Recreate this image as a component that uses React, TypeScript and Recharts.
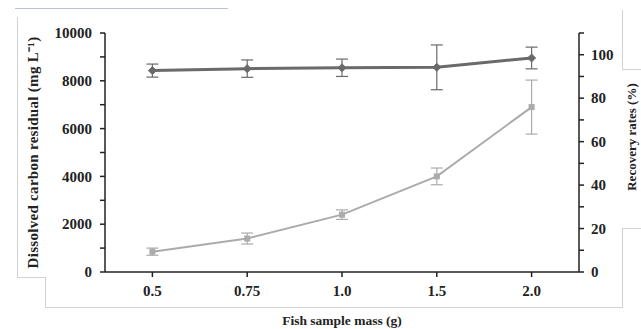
import React from 'react';
import { ComposedChart, Line, XAxis, YAxis, ErrorBar } from 'recharts';

const categories = ['0.5', '0.75', '1.0', '1.5', '2.0'];
const docValues = [850, 1400, 2400, 4000, 6900];
const docErrors = [150, 230, 200, 350, 1130];
const recoveryValues = [92.7, 93.6, 94.0, 94.2, 98.5];
const recoveryErrors = [3, 4, 4, 10.3, 5];
const leftTicks = [0, 1000, 2000, 3000, 4000, 5000, 6000, 7000, 8000, 9000, 10000];
const leftLabeled = [0, 2000, 4000, 6000, 8000, 10000];
const rightTicks = [0, 10, 20, 30, 40, 50, 60, 70, 80, 90, 100, 110];
const rightLabeled = [0, 20, 40, 60, 80, 100];

const data = categories.map((c, i) => ({
  mass: c,
  doc: docValues[i],
  docErr: docErrors[i],
  rec: recoveryValues[i],
  recErr: recoveryErrors[i],
}));

const FONT = '"Liberation Serif", "Times New Roman", serif';
const DARK = '#6a6a6a';
const LIGHT = '#ababab';

const LeftTick = (props: any) => {
  const { x, y, payload } = props;
  if (!leftLabeled.includes(payload.value)) return null;
  return (
    <text x={x} y={y} dy="0.35em" textAnchor="end" fontFamily={FONT} fontWeight="bold" fontSize={15} fill="#222">
      {payload.value}
    </text>
  );
};

const RightTick = (props: any) => {
  const { x, y, payload } = props;
  if (!rightLabeled.includes(payload.value)) return null;
  return (
    <text x={x} y={y} dy="0.35em" textAnchor="start" fontFamily={FONT} fontWeight="bold" fontSize={15} fill="#222">
      {payload.value}
    </text>
  );
};

const BottomTick = (props: any) => {
  const { x, y, payload } = props;
  return (
    <text x={x} y={y} dy="0.75em" textAnchor="middle" fontFamily={FONT} fontWeight="bold" fontSize={15} fill="#222">
      {payload.value}
    </text>
  );
};

const Diamond = (props: any) => {
  const { cx, cy, index } = props;
  const s = 4;
  return (
    <path key={`d-${index}`} d={`M${cx},${cy - s}L${cx + s},${cy}L${cx},${cy + s}L${cx - s},${cy}Z`} fill={DARK} stroke={DARK} />
  );
};

const Square = (props: any) => {
  const { cx, cy, index } = props;
  const s = 2.5;
  return <rect key={`s-${index}`} x={cx - s} y={cy - s} width={2 * s} height={2 * s} fill={LIGHT} stroke={LIGHT} />;
};

const line = (style: React.CSSProperties) => <div style={{ position: 'absolute', background: '#cfd3d8', ...style }} />;

export default function App() {
  return (
    <div style={{ position: 'absolute', left: 0, top: 0, width: 641, height: 329, background: '#fff', overflow: 'hidden' }}>
      {line({ left: 15, top: 8, width: 213, height: 1, background: '#b8c4d0' })}
      {line({ left: 17, top: 17, width: 1, height: 260 })}
      {line({ left: 17, top: 277, width: 28, height: 1 })}
      {line({ left: 45, top: 277, width: 1, height: 30 })}
      {line({ left: 45, top: 307, width: 577, height: 1 })}
      {line({ left: 622, top: 228, width: 1, height: 80 })}
      {line({ left: 622, top: 228, width: 19, height: 1 })}
      {line({ left: 622, top: 10, width: 1, height: 59 })}
      {line({ left: 622, top: 69, width: 19, height: 1 })}
      <div style={{ position: 'absolute', left: 0, top: 0 }}>
        <ComposedChart width={641} height={329} data={data} margin={{ top: 33, right: 0, bottom: 0, left: 0 }}>
          <XAxis
            dataKey="mass"
            scale="band"
            height={57}
            tickSize={5}
            tickMargin={8}
            tick={<BottomTick />}
            stroke="#222"
            strokeWidth={1.5}
            label={{ value: 'Fish sample mass (g)', position: 'insideBottom', offset: 4, fontFamily: FONT, fontWeight: 'bold', fontSize: 13.5, fill: '#222' }}
          />
          <YAxis
            yAxisId="left"
            orientation="left"
            width={105}
            domain={[0, 10000]}
            ticks={leftTicks}
            interval={0}
            tickSize={5}
            tickMargin={8}
            tick={<LeftTick />}
            stroke="#222"
            strokeWidth={1.5}
            label={{ value: 'Dissolved  carbon  residual (mg L\u207B\u00B9)', angle: -90, position: 'insideLeft', offset: 33, fontFamily: FONT, fontWeight: 'bold', fontSize: 15, fill: '#222', style: { textAnchor: 'middle', letterSpacing: 0.3 } }}
          />
          <YAxis
            yAxisId="right"
            orientation="right"
            width={62}
            domain={[0, 110]}
            ticks={rightTicks}
            interval={0}
            tickSize={5}
            tickMargin={7}
            tick={<RightTick />}
            stroke="#222"
            strokeWidth={1.5}
          />
          <Line
            yAxisId="right"
            dataKey="rec"
            stroke={DARK}
            strokeWidth={3}
            dot={Diamond}
            isAnimationActive={false}
          >
            <ErrorBar dataKey="recErr" width={6} stroke={DARK} strokeWidth={1.2} direction="y" />
          </Line>
          <Line
            yAxisId="left"
            dataKey="doc"
            stroke={LIGHT}
            strokeWidth={2}
            dot={Square}
            isAnimationActive={false}
          >
            <ErrorBar dataKey="docErr" width={6} stroke={LIGHT} strokeWidth={1.2} direction="y" />
          </Line>
        </ComposedChart>
      </div>
      <div
        style={{
          position: 'absolute',
          left: 632,
          top: 137,
          transform: 'translate(-50%, -50%) rotate(-90deg)',
          whiteSpace: 'nowrap',
          fontFamily: FONT,
          fontWeight: 'bold',
          fontSize: 13,
          lineHeight: '14px',
          color: '#222',
        }}
      >
        Recovery rates (%)
      </div>
    </div>
  );
}
